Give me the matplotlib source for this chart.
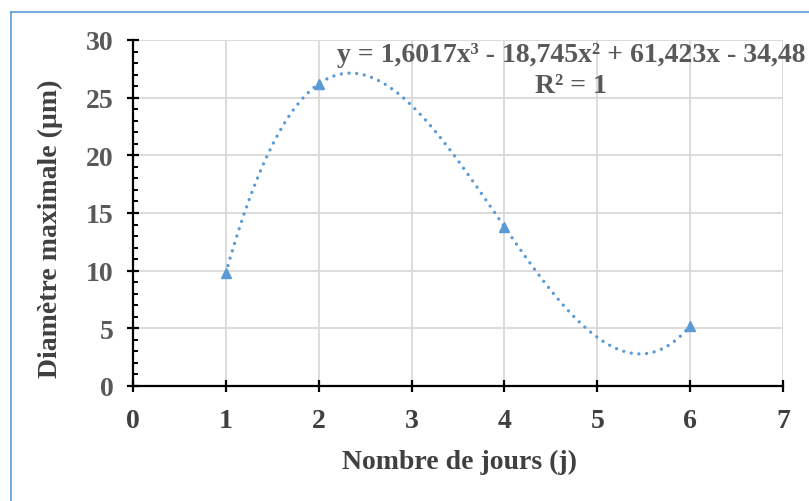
import numpy as np
import matplotlib
matplotlib.use("Agg")
import matplotlib.pyplot as plt
from matplotlib.lines import Line2D
from matplotlib.ticker import MultipleLocator

# Measured maximal diameter per day
days = [1, 2, 4, 6]
diametre = [9.80, 26.20, 13.80, 5.205]

x_ticks = [0, 1, 2, 3, 4, 5, 6, 7]
y_ticks = [0, 5, 10, 15, 20, 25, 30]

equation_text = "y = 1,6017x³ - 18,745x² + 61,423x - 34,48"
r2_text = "R² = 1"
x_title = "Nombre de jours (j)"
y_title = "Diamètre maximale (µm)"

blue = "#5B9BD5"
grid_gray = "#D9D9D9"
label_gray = "#595959"
title_gray = "#404040"
fs = 20

plt.rcParams["font.family"] = ["Liberation Serif", "DejaVu Serif"]
plt.rcParams["font.weight"] = "bold"

W, H = 809, 502
fig = plt.figure(figsize=(W / 100, H / 100), dpi=100)
ax = fig.add_axes([133 / W, 1 - 387 / H, 650 / W, 346 / H])

# cubic polynomial trend line fitted through the measurements
coef = np.polyfit(days, diametre, 3)
xs = np.linspace(min(days), max(days), 400)
ax.plot(xs, np.polyval(coef, xs), color=blue, lw=2.4,
        linestyle=(0, (0.01, 2.3)), dash_capstyle="round", zorder=3)
ax.plot(days, diametre, linestyle="none", marker="^", markersize=7.5,
        color=blue, zorder=4)

ax.set_xlim(x_ticks[0], x_ticks[-1])
ax.set_ylim(y_ticks[0], y_ticks[-1])
ax.set_xticks(x_ticks)
ax.set_yticks(y_ticks)
ax.yaxis.set_minor_locator(MultipleLocator(1))

ax.grid(True, which="major", color=grid_gray, lw=1.3, zorder=0)
ax.set_axisbelow(True)
for side in ("top", "right"):
    ax.spines[side].set_visible(False)
for side in ("left", "bottom"):
    ax.spines[side].set_color("black")
    ax.spines[side].set_linewidth(1.6)
    ax.spines[side].set_zorder(5)

ax.tick_params(axis="both", which="major", direction="inout", length=8,
               width=1.6, color="black", labelsize=fs)
ax.tick_params(axis="y", which="minor", direction="in", length=3.5,
               width=1.4, color="black")
ax.tick_params(axis="y", which="major", pad=10, labelcolor=label_gray)
ax.tick_params(axis="x", which="major", pad=12, labelcolor=title_gray)
for lbl in ax.get_xticklabels() + ax.get_yticklabels():
    lbl.set_fontweight("bold")

ax.set_xlabel(x_title, fontsize=fs, fontweight="bold", color=title_gray)
ax.set_ylabel(y_title, fontsize=fs, fontweight="bold", color=title_gray)
ax.xaxis.set_label_coords((459 - 133) / 650, (387 - 462) / 346)
ax.xaxis.label.set_va("center")
ax.yaxis.set_label_coords((50 - 133) / 650, (387 - 229) / 346)
ax.yaxis.label.set_va("center")
ax.yaxis.label.set_ha("center")

# trend line equation and coefficient of determination
cx = (571 - 133) / 650
ax.text(cx, (387 - 62) / 346, equation_text, transform=ax.transAxes,
        ha="center", va="baseline", fontsize=fs, fontweight="bold",
        color=label_gray, zorder=6, clip_on=False)
ax.text(cx, (387 - 93) / 346, r2_text, transform=ax.transAxes,
        ha="center", va="baseline", fontsize=fs, fontweight="bold",
        color=label_gray, zorder=6, clip_on=False)

# chart-area frame (left and top edges)
fx, fy = 10.5 / W, 1 - 12.5 / H
fig.add_artist(Line2D([fx, fx], [fy, -0.1], transform=fig.transFigure,
                      color=blue, lw=1.2))
fig.add_artist(Line2D([fx, 1.1], [fy, fy], transform=fig.transFigure,
                      color=blue, lw=1.2))

fig.savefig("out.png", dpi=100)
